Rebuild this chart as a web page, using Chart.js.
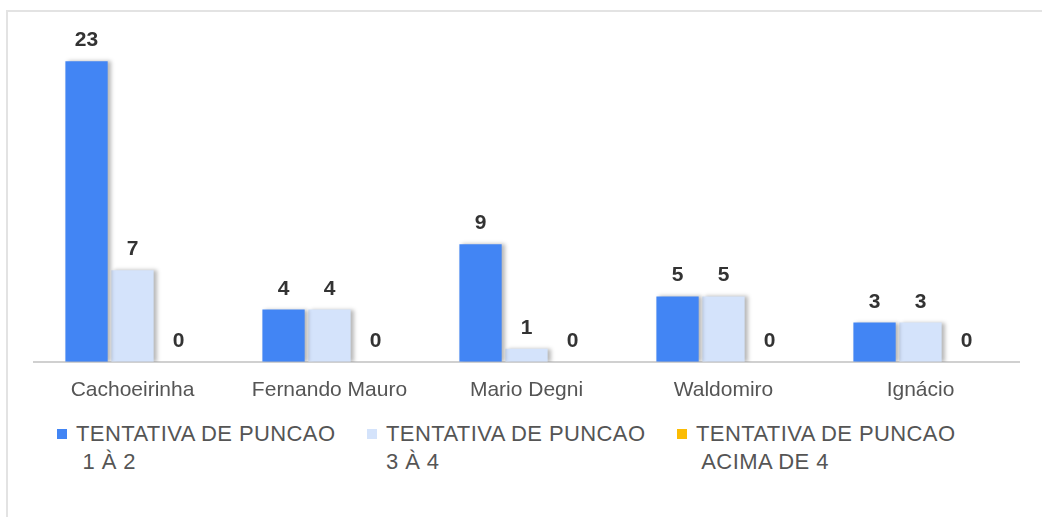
<!DOCTYPE html>
<html>
<head>
<meta charset="utf-8">
<script src="https://cdn.jsdelivr.net/npm/chart.js@4/dist/chart.umd.min.js"></script>
<style>
    html, body { margin: 0; padding: 0; background: #fff; }
    body { width: 1042px; height: 517px; position: relative; overflow: hidden; font-family: "Liberation Sans", Arial, sans-serif; }
    .frame { position: absolute; left: 6px; top: 10px; right: -10px; bottom: -10px; border-top: 2px solid #e3e3e3; border-left: 2px solid #e3e3e3; }
    .wrap { position: absolute; left: 0; top: 0; width: 1042px; height: 411px; }
    #legend { position: absolute; left: 57px; top: 420px; display: flex; }
    .item { width: 310px; display: flex; align-items: flex-start; color: #555; font-size: 22px; line-height: 28px; letter-spacing: 0.4px; }
    .swatch { width: 10px; height: 10px; margin: 9px 9px 0 0; flex: none; }
</style>
</head>
<body>
<div class="frame"></div>
<div class="wrap"><canvas id="chart"></canvas></div>
<div id="legend"></div>
<script>
const categories = ['Cachoeirinha', 'Fernando Mauro', 'Mario Degni', 'Waldomiro', 'Ignácio'];
const seriesNames = [
    ['TENTATIVA DE PUNCAO', ' 1 À 2'],
    ['TENTATIVA DE PUNCAO', '3 À 4'],
    ['TENTATIVA DE PUNCAO', ' ACIMA DE 4'],
];
const tentativa1a2 = [23, 4, 9, 5, 3];
const tentativa3a4 = [7, 4, 1, 5, 3];
const tentativaAcima4 = [0, 0, 0, 0, 0];

const colors = ['#4285f4', '#d4e3fb', '#fbbc04'];

const barShadow = {
    id: 'barShadow',
    beforeDatasetDraw(chart) {
        const ctx = chart.ctx;
        ctx.save();
        ctx.shadowColor = 'rgba(0, 0, 0, 0.28)';
        ctx.shadowOffsetX = 3;
        ctx.shadowOffsetY = 0;
        ctx.shadowBlur = 4;
    },
    afterDatasetDraw(chart) {
        chart.ctx.restore();
    },
};

const valueLabels = {
    id: 'valueLabels',
    afterDatasetsDraw(chart) {
        const ctx = chart.ctx;
        ctx.save();
        ctx.font = 'bold 21px "Liberation Sans", Arial, sans-serif';
        ctx.fillStyle = '#333';
        ctx.textAlign = 'center';
        ctx.textBaseline = 'alphabetic';
        chart.data.datasets.forEach((ds, i) => {
            chart.getDatasetMeta(i).data.forEach((bar, j) => {
                ctx.fillText(String(ds.data[j]), bar.x, bar.y - 15);
            });
        });
        ctx.restore();
    },
};

const datasets = [tentativa1a2, tentativa3a4, tentativaAcima4].map((values, i) => ({
    label: seriesNames[i].join(' '),
    data: values,
    backgroundColor: colors[i],
    borderWidth: 0,
    categoryPercentage: 0.7,
    barPercentage: 0.92,
}));

new Chart(document.getElementById('chart'), {
    type: 'bar',
    data: { labels: categories, datasets },
    options: {
        responsive: true,
        maintainAspectRatio: false,
        animation: false,
        layout: { padding: { left: 34, right: 23, top: 22, bottom: 0 } },
        plugins: { legend: { display: false }, tooltip: { enabled: false } },
        scales: {
            x: {
                grid: { display: false },
                border: { display: true, color: '#d0d0d0', width: 2 },
                ticks: { color: '#555', padding: 8, font: { family: '"Liberation Sans", Arial, sans-serif', size: 21 } },
            },
            y: { display: false, min: 0, max: 26 },
        },
    },
    plugins: [barShadow, valueLabels],
});

const legend = document.getElementById('legend');
seriesNames.forEach((lines, i) => {
    const item = document.createElement('div');
    item.className = 'item';
    const sw = document.createElement('span');
    sw.className = 'swatch';
    sw.style.background = colors[i];
    const txt = document.createElement('span');
    txt.style.whiteSpace = 'pre';
    txt.textContent = lines.join('\n');
    item.append(sw, txt);
    legend.append(item);
});
</script>
</body>
</html>
